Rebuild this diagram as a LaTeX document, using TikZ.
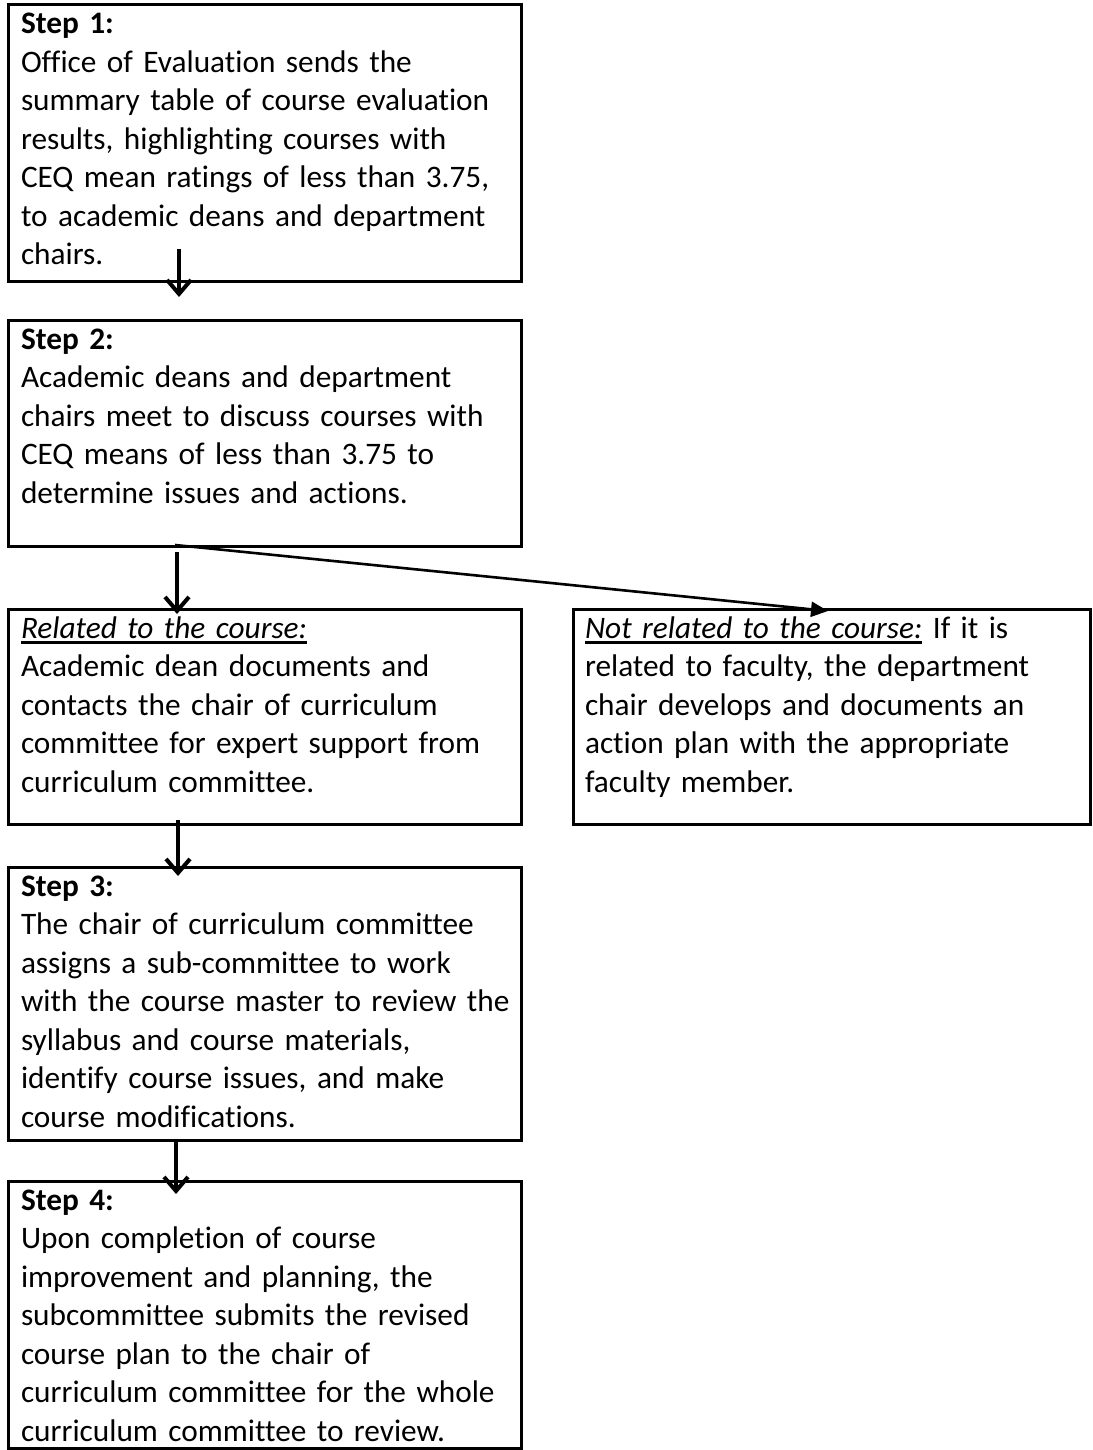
\documentclass[tikz,border=0pt]{standalone}
\usepackage{fontspec}
\setmainfont{Carlito}[Ligatures={NoCommon}]
\usetikzlibrary{arrows.meta,calc}
\newlength\ulw
\newcommand\myul[1]{\settowidth\ulw{#1}\rlap{\rule[-6pt]{\ulw}{2.6pt}}#1}
\newcommand\firstln{\rule{0pt}{25pt}}
\tikzset{
  box/.style={draw, line width=3pt, rectangle, inner sep=0pt, outer sep=0pt, anchor=north west},
  txt/.style={anchor=north west, inner sep=0pt, outer sep=0pt, align=left, text width=505pt,
              font=\fontsize{31.3}{38.5}\selectfont\frenchspacing},
  varrow/.style={line width=4pt, -{Straight Barb[length=14pt,width=24pt]}},
  darrow/.style={line width=2.6pt, -{Triangle[length=17pt,width=15pt]}}
}
\begin{document}
\begin{tikzpicture}[x=1pt,y=-1pt]
\useasboundingbox (0,0) rectangle (1092,1450);
% boxes
\node[box, minimum width=513pt, minimum height=276pt] (b1) at (8,5) {};
\node[box, minimum width=513pt, minimum height=226pt] (b2) at (8,320) {};
\node[box, minimum width=513pt, minimum height=215pt] (b3) at (8,609) {};
\node[box, minimum width=517pt, minimum height=215pt] (b4) at (573,609) {};
\node[box, minimum width=513pt, minimum height=273pt] (b5) at (8,867) {};
\node[box, minimum width=513pt, minimum height=267.5pt] (b6) at (8,1181) {};
% texts
\node[txt] (t1) at ($(b1.north west)+(13,4)$) {\noindent\firstln\textbf{Step 1:}\\
Office of Evaluation sends the\\
summary table of course evaluation\\
results, highlighting courses with\\
CEQ mean ratings of less than 3.75,\\
to academic deans and department\\
chairs.};
\node[txt] (t2) at ($(b2.north west)+(13,4)$) {\noindent\firstln\textbf{Step 2:}\\
Academic deans and department\\
chairs meet to discuss courses with\\
CEQ means of less than 3.75 to\\
determine issues and actions.};
\node[txt] (t3) at ($(b3.north west)+(13,4)$) {\noindent\firstln\myul{\textit{Related to the course:}}\\
Academic dean documents and\\
contacts the chair of curriculum\\
committee for expert support from\\
curriculum committee.};
\node[txt] (t4) at ($(b4.north west)+(12,4)$) {\noindent\firstln\myul{\textit{Not related to the course:}} If it is\\
related to faculty, the department\\
chair develops and documents an\\
action plan with the appropriate\\
faculty member.};
\node[txt] (t5) at ($(b5.north west)+(13,4)$) {\noindent\firstln\textbf{Step 3:}\\
The chair of curriculum committee\\
assigns a sub-committee to work\\
with the course master to review the\\
syllabus and course materials,\\
identify course issues, and make\\
course modifications.};
\node[txt] (t6) at ($(b6.north west)+(13,4)$) {\noindent\firstln\textbf{Step 4:}\\
Upon completion of course\\
improvement and planning, the\\
subcommittee submits the revised\\
course plan to the chair of\\
curriculum committee for the whole\\
curriculum committee to review.};
% arrow ends
\coordinate (a1s) at ($(b1.south west)+(171,-32)$);
\coordinate (a1e) at ($(b2.north west)+(171,-23)$);
\coordinate (a2s) at ($(b2.south west)+(169,6)$);
\coordinate (a2e) at ($(b3.north west)+(169,5)$);
\coordinate (a3s) at ($(b2.south west)+(167,-1)$);
\coordinate (a3e) at ($(b4.north west)+(255,2)$);
\coordinate (a4s) at ($(b3.south west)+(170,-4)$);
\coordinate (a4e) at ($(b5.north west)+(170,9)$);
\coordinate (a5s) at ($(b5.south west)+(168,0)$);
\coordinate (a5e) at ($(b6.north west)+(168,13)$);
% connectors
\draw[varrow] (a1s) -- (a1e);
\draw[varrow] (a2s) -- (a2e);
\draw[darrow] (a3s) -- (a3e);
\draw[varrow] (a4s) -- (a4e);
\draw[varrow] (a5s) -- (a5e);
\end{tikzpicture}
\end{document}
